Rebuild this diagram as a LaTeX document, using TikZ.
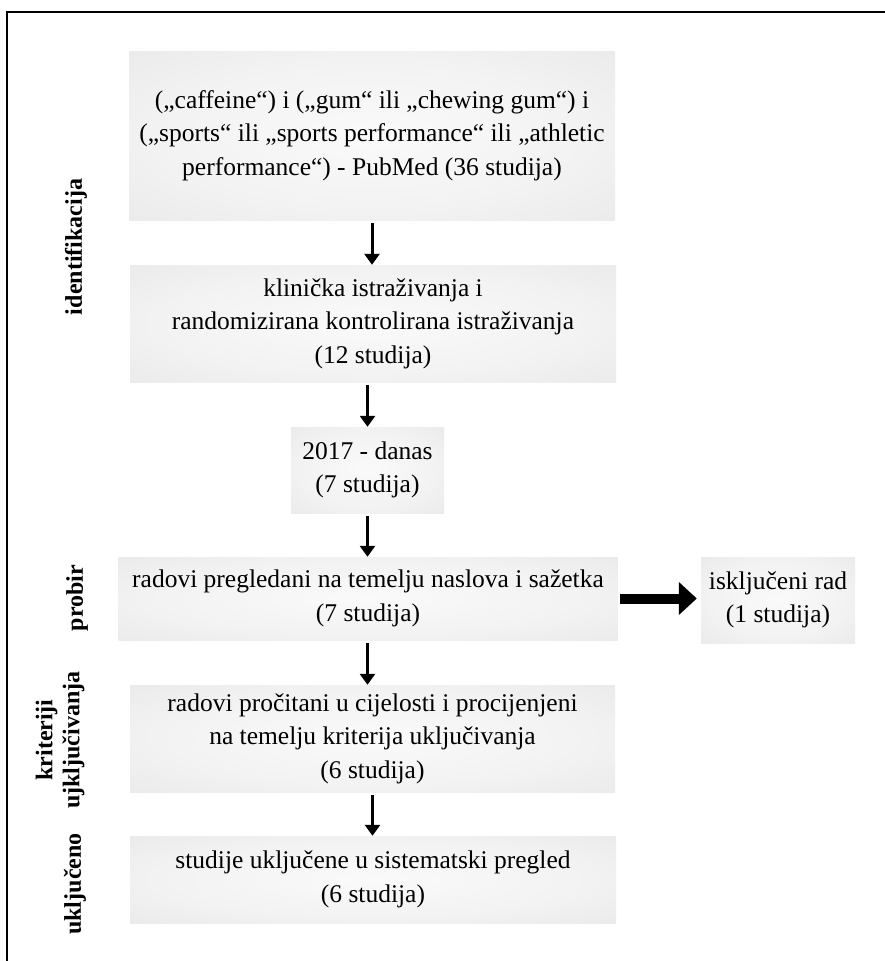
\documentclass[tikz,border=0pt]{standalone}
\usepackage{fontspec}
\setmainfont{Liberation Serif}
\usepackage{tikz}
\usetikzlibrary{positioning,calc,arrows.meta,shadings}

\pgfdeclareradialshading{stagefill}{\pgfpoint{0bp}{0bp}}{%
  color(0bp)=(white!98!black);
  color(22bp)=(white!95!black);
  color(50bp)=(white!89!black);
  color(72bp)=(white!87!black)}

\begin{document}
\begin{tikzpicture}[
					x=1pt, y=-1pt,
					stage/.style={
						shading=stagefill, draw=none,
						inner sep=0pt, align=center,
						font=\fontsize{25.5}{33.5}\selectfont
					},
					phase/.style={
						rotate=90, inner sep=0pt, align=center,
						font=\fontsize{24}{27}\selectfont\bfseries
					},
					flow/.style={
						line width=3pt, shorten <=3pt,
						-{Triangle[width=15pt,length=11pt]}
					},
					flowbig/.style={
						line width=10pt, shorten >=4pt, shorten <=2pt,
						-{Triangle[width=32pt,length=18pt]}
					}
					]
					\useasboundingbox (0,0) rectangle (885,961);
					\fill[white] (0,0) rectangle (885,961);
					
					% --- okvir ---
					\draw[line width=2pt] (7,975) -- (7,12) -- (900,12);
					
					% --- IDENTIFIKACIJA ---
					\node[stage, minimum width=486pt, minimum height=169pt] (s1) at (372,135.5)
						{(„caffeine“) i („gum“ ili „chewing gum“) i\\
						 („sports“ ili „sports performance“ ili „athletic\\
						 performance“) - PubMed (36 studija)};
					\node[stage, minimum width=486pt, minimum height=117pt] (s2) at (373,323.5)
						{klinička istraživanja i\\
						 randomizirana kontrolirana istraživanja\\
						 (12 studija)};
					\node[stage, minimum width=153pt, minimum height=86pt] (s3) at (367.5,470)
						{2017 - danas\\ (7 studija)};
					
					% --- PROBIR ---
					\node[stage, minimum width=499pt, minimum height=83pt] (s4) at (368,598.5)
						{radovi pregledani na temelju naslova i sažetka\\ (7 studija)};
					\node[stage, minimum width=154pt, minimum height=86pt] (s5) at (778,600)
						{isključeni rad\\ (1 studija)};
					
					% --- KRITERIJI ---
					\node[stage, minimum width=485pt, minimum height=107pt] (s6) at (372.5,738.5)
						{radovi pročitani u cijelosti i procijenjeni\\
						 na temelju kriterija uključivanja\\
						 (6 studija)};
					
					% --- UKLJUČENO ---
					\node[stage, minimum width=486pt, minimum height=87pt] (s7) at (373,879.5)
						{studije uključene u sistematski pregled\\ (6 studija)};
					
					% --- oznake faza ---
					\node[phase] (p1) at (76,247) {identifikacija};
					\node[phase] (p2) at (77,598) {probir};
					\node[phase] (p3) at (60,740) {kriteriji\\ ujključivanja};
					\node[phase] (p4) at (75,884) {uključeno};
					
					% --- strelice ---
					\draw[flow] (s1.south -| s1.north) -- (s2.north -| s1.south);
					\draw[flow] (s2.south -| s3.north) -- (s3.north);
					\draw[flow] (s3.south) -- (s3.south |- s4.north);
					\draw[flow] (s4.south -| s3.south) -- (s6.north -| s3.south);
					\draw[flow] (s6.south) -- (s7.north -| s6.south);
					\draw[flowbig] (s4.east) -- (s4.east -| s5.west);
					
				\end{tikzpicture}
\end{document}
